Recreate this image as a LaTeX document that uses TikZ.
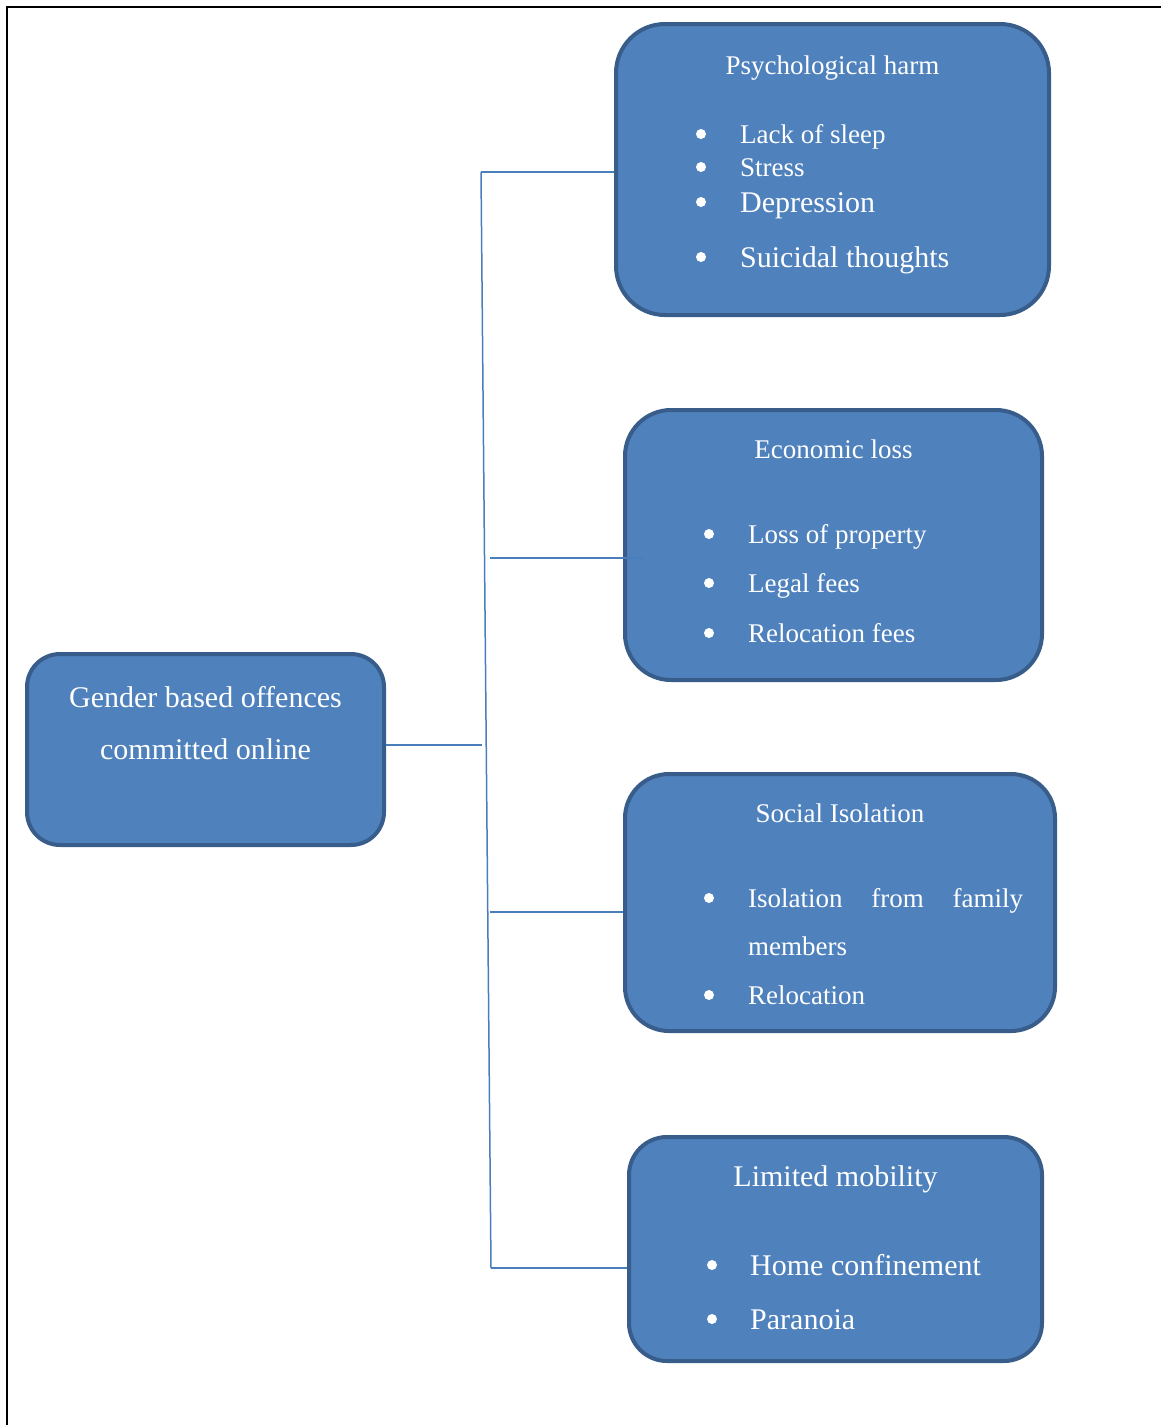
\documentclass[tikz,border=0pt]{standalone}
\usepackage{fontspec}
\setmainfont{Liberation Serif}
\definecolor{boxfill}{HTML}{4F81BD}
\definecolor{boxline}{HTML}{385D8A}
\definecolor{connline}{HTML}{4A7EBB}
\tikzset{
  box/.style={draw=boxline, fill=boxfill, line width=4pt, inner sep=0pt},
  conn/.style={draw=connline, line width=1.5pt},
  txt/.style={text=white, inner sep=0pt, font=\fontsize{27}{32}\selectfont},
  bigtxt/.style={text=white, inner sep=0pt, font=\fontsize{30}{36}\selectfont},
  dot/.style={circle, fill=white, inner sep=0pt, minimum size=10pt}
}
\begin{document}
\begin{tikzpicture}[x=1pt,y=-1pt]
\useasboundingbox (0,0) rectangle (1161,1425);
% frame
\draw[line width=1.4pt] (7,1425) -- (7,7) -- (1161,7);

% connectors (drawn below boxes)
\coordinate (vt) at (481,172);
\coordinate (vb) at (491,1268);
\coordinate (j0) at (482,745);
\coordinate (j2) at (490,558);
\coordinate (j3) at (490,912);
\coordinate (j2e) at (643,558);

% boxes
\node[box, minimum width=433pt, minimum height=291pt, rounded corners=49pt] (psych) at (832.5,169.5) {};
\node[box, minimum width=417pt, minimum height=270pt, rounded corners=46pt] (econ) at (833.5,545) {};
\node[box, minimum width=430pt, minimum height=257pt, rounded corners=44pt] (social) at (840,902.5) {};
\node[box, minimum width=413pt, minimum height=224pt, rounded corners=38pt] (limited) at (835.5,1249) {};
\node[box, minimum width=357pt, minimum height=191pt, rounded corners=33pt] (gender) at (205.5,749.5) {};

\draw[conn] (gender.east |- j0) -- (j0);
\draw[conn] (vt) -- (vb);
\draw[conn] (vt) -- (psych.west |- vt);
\draw[conn] (j2) -- (j2e);
\draw[conn] (j3) -- (social.west |- j3);
\draw[conn] (vb) -- (limited.west |- vb);

% gender text
\node[bigtxt, anchor=base] (g1) at (205.5,707) {Gender based offences};
\node[bigtxt, anchor=base] (g2) at (205.5,759) {committed online};

% psychological harm
\node[txt, anchor=base] (pt) at (832.5,74) {Psychological harm};
\node[dot] (pb1) at (701,134) {};
\node[dot] (pb2) at (701,167) {};
\node[dot] (pb3) at (701,202) {};
\node[dot] (pb4) at (701,257) {};
\node[txt, anchor=base west] (p1) at (740,143) {Lack of sleep};
\node[txt, anchor=base west] (p2) at (740,176) {Stress};
\node[bigtxt, anchor=base west] (p3) at (740,212) {Depression};
\node[bigtxt, anchor=base west] (p4) at (740,267) {Suicidal thoughts};

% economic loss
\node[txt, anchor=base] (et) at (833.5,458) {Economic loss};
\node[dot] (eb1) at (709,534) {};
\node[dot] (eb2) at (709,583) {};
\node[dot] (eb3) at (709,633) {};
\node[txt, anchor=base west] (e1) at (748,543) {Loss of property};
\node[txt, anchor=base west] (e2) at (748,592) {Legal fees};
\node[txt, anchor=base west] (e3) at (748,642) {Relocation fees};

% social isolation
\node[txt, anchor=base] (st) at (840,822) {Social Isolation};
\node[dot] (sb1) at (709,898) {};
\node[dot] (sb2) at (709,995) {};
\node[txt, anchor=base west] (s1) at (748,907) {\makebox[275pt][s]{Isolation\hfill from\hfill family}};
\node[txt, anchor=base west] (s2) at (748,955) {members};
\node[txt, anchor=base west] (s3) at (748,1004) {Relocation};

% limited mobility
\node[bigtxt, anchor=base] (lt) at (835.5,1186) {Limited mobility};
\node[dot] (lb1) at (712,1265) {};
\node[dot] (lb2) at (712,1319) {};
\node[bigtxt, anchor=base west] (l1) at (750,1275) {Home confinement};
\node[bigtxt, anchor=base west] (l2) at (750,1329) {Paranoia};
\end{tikzpicture}
\end{document}
